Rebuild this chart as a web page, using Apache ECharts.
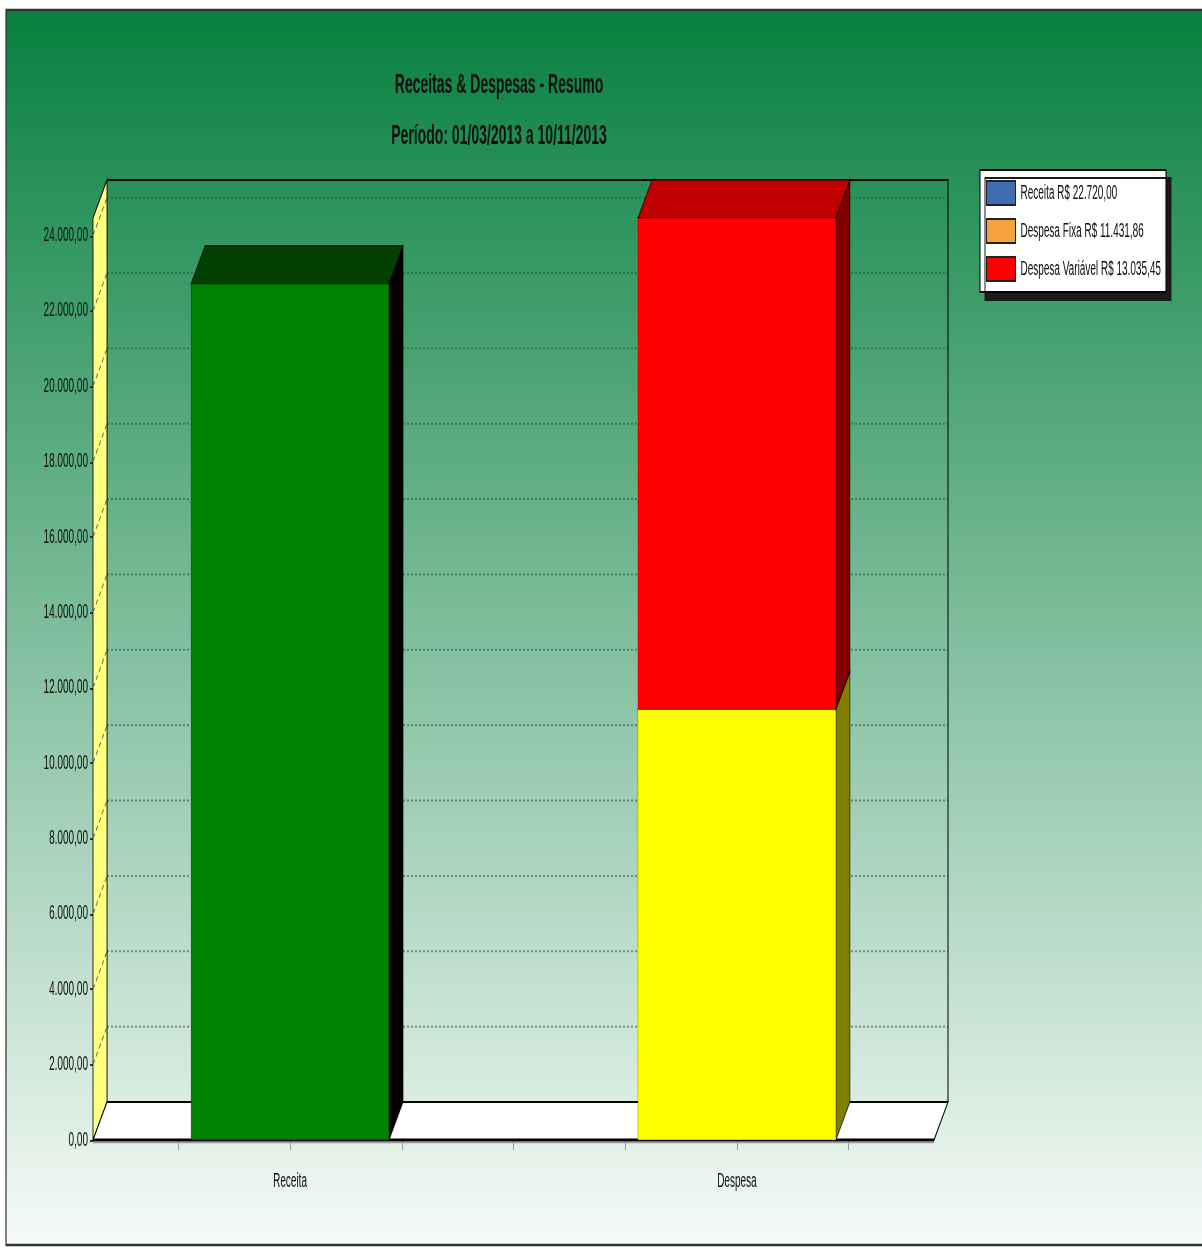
<!DOCTYPE html>
<html lang="pt-BR">
<head>
    <meta charset="UTF-8">
    <title>Receitas & Despesas - Resumo</title>
    <style>
      html, body { margin: 0; padding: 0; background: #fff; }
      #wrap { width: 1202px; height: 1248px; position: relative; overflow: hidden; }
      /* o gráfico original foi esticado na vertical: desenha na metade da altura e estica */
      #chart { position: absolute; left: 0; top: 0; width: 1202px; height: 624px; transform: scaleY(2); transform-origin: 0 0; }
    </style>
</head>
<body>
<div id="wrap"><div id="chart"></div></div>
</body>
<script src="https://cdn.jsdelivr.net/npm/echarts@6/dist/echarts.min.js"></script>
<script type="text/javascript">
  // dados
  const categories = ['Receita', 'Despesa'];
  const seriesNames = ['Receita', 'Despesa Fixa', 'Despesa Variável'];
  const receita = [22720.00, 0];
  const despesaFixa = [0, 11431.86];
  const despesaVariavel = [0, 13035.45];
  const yTicks = [0, 2000, 4000, 6000, 8000, 10000, 12000, 14000, 16000, 18000, 20000, 22000, 24000];
  const xTicks = [0.75, 1, 1.25, 1.5, 1.75, 2, 2.25];

  const seriesValues = [receita, despesaFixa, despesaVariavel];

  // estilo
  const FONT = "'Liberation Sans', Arial, sans-serif";
  const DX = 14;     // profundidade 3D
  const DY = -19;
  const HALF = 0.2215; // meia largura da barra (unidades do eixo x)
  const legendColors = ['#3f6db2', '#f4a23e', '#ff0000'];
  const faceColors = [
    {front: '#008000', top: '#004000', side: '#000000'},
    {front: '#ffff00', top: '#a0a000', side: '#808000'},
    {front: '#ff0000', top: '#c00000', side: '#800000'},
  ];

  function brl(v) {
    const parts = v.toFixed(2).split('.');
    return parts[0].replace(/\B(?=(\d{3})+(?!\d))/g, '.') + ',' + parts[1];
  }

  // empilhamento
  const stackBase = categories.map(() => 0);
  const barData = seriesValues.map(vals => {
    const out = [];
    vals.forEach((v, i) => {
      if (v > 0) {
        out.push([i + 1, stackBase[i], stackBase[i] + v]);
        stackBase[i] += v;
      }
    });
    return out;
  });
  const yMax = Math.max(...stackBase);

  const totals = {};
  seriesNames.forEach((n, i) => {
    totals[n] = seriesValues[i].reduce((a, b) => a + b, 0);
  });

  function renderBar(face) {
    return function(params, api) {
      const x = api.value(0);
      const p0 = api.coord([x - HALF, api.value(2)]);
      const p1 = api.coord([x + HALF, api.value(1)]);
      const x0 = p0[0], yt = p0[1], x1 = p1[0], yb = p1[1];
      const edge = {stroke: 'rgba(0,0,0,0.7)', lineWidth: 0.8};
      return {
        type: 'group',
        children: [
          {
            type: 'polygon',
            shape: {points: [[x1, yt], [x1 + DX, yt + DY], [x1 + DX, yb + DY], [x1, yb]]},
            style: Object.assign({fill: face.side}, edge),
          }, {
            type: 'polygon',
            shape: {points: [[x0, yt], [x0 + DX, yt + DY], [x1 + DX, yt + DY], [x1, yt]]},
            style: Object.assign({fill: face.top}, edge),
          }, {
            type: 'rect',
            shape: {x: x0, y: yt, width: x1 - x0, height: yb - yt},
            style: {fill: face.front, stroke: 'rgba(0,0,0,0.35)', lineWidth: 0.6},
          }],
      };
    };
  }

  // paredes, piso e linhas de grade do fundo
  function renderWalls(params, api) {
    const cs = params.coordSys;
    const left = cs.x, right = cs.x + cs.width, top = cs.y, bottom = cs.y + cs.height;
    const children = [];

    yTicks.forEach(v => {
      if (v === 0) return;
      const y = api.coord([1, v])[1] + DY;
      children.push({
        type: 'line',
        shape: {x1: left + DX, y1: y, x2: right + DX, y2: y},
        style: {stroke: 'rgba(40,95,65,0.6)', lineWidth: 1, lineDash: [2, 2]},
      });
    });

    children.push({
      type: 'polyline',
      shape: {points: [[left + DX, bottom + DY], [left + DX, top + DY], [right + DX, top + DY], [right + DX, bottom + DY]]},
      style: {stroke: '#000', lineWidth: 1, fill: null},
    });

    children.push({
      type: 'polygon',
      shape: {points: [[left, bottom], [left + DX, bottom + DY], [left + DX, top + DY], [left, top]]},
      style: {fill: '#ffff80', stroke: '#000', lineWidth: 0.8},
    });

    yTicks.forEach(v => {
      const y = api.coord([1, v])[1];
      children.push({
        type: 'line',
        shape: {x1: left, y1: y, x2: left + DX, y2: y + DY},
        style: {stroke: '#666', lineWidth: 0.8, lineDash: [3, 2]},
      });
    });

    children.push({
      type: 'polygon',
      shape: {points: [[left, bottom], [left + DX, bottom + DY], [right + DX, bottom + DY], [right, bottom]]},
      style: {fill: '#ffffff', stroke: '#000', lineWidth: 0.9},
    });
    children.push({
      type: 'line',
      shape: {x1: left, y1: bottom, x2: right, y2: bottom},
      style: {stroke: '#000', lineWidth: 1.6},
    });
    children.push({
      type: 'line',
      shape: {x1: left, y1: bottom + 1.3, x2: right, y2: bottom + 1.3},
      style: {stroke: '#999', lineWidth: 0.6},
    });

    return {type: 'group', children: children};
  }

  const series = [
    {
      type: 'custom',
      renderItem: renderWalls,
      data: [[1, 0]],
      clip: false,
      silent: true,
      z: 1,
    }];

  seriesNames.forEach((name, i) => {
    series.push({
      name: name,
      type: 'custom',
      renderItem: renderBar(faceColors[i]),
      encode: {x: 0, y: [1, 2]},
      data: barData[i],
      clip: false,
      itemStyle: {color: legendColors[i]},
      z: 3,
    });
  });

  const option = {
    animation: false,
    backgroundColor: 'transparent',
    graphic: [
      {
        type: 'rect',
        z: -10,
        shape: {x: 6, y: 5, width: 1200, height: 617.5},
        style: {
          fill: {
            type: 'linear', x: 0, y: 0, x2: 0, y2: 1,
            colorStops: [
              {offset: 0, color: '#07803f'},
              {offset: 1, color: '#f6fbf8'}],
          },
          stroke: '#333',
          lineWidth: 1.2,
        },
      }],
    title: {
      text: 'Receitas & Despesas - Resumo\nPeríodo: 01/03/2013 a 10/11/2013',
      left: 494,
      top: 25,
      textAlign: 'center',
      textStyle: {
        fontFamily: FONT, fontSize: 14, fontWeight: 'bold', color: '#111', lineHeight: 25.5,
      },
    },
    legend: {
      orient: 'vertical',
      left: 980,
      top: 85,
      padding: [5, 5, 5, 6],
      itemWidth: 29,
      itemHeight: 12,
      itemGap: 6,
      icon: 'rect',
      backgroundColor: '#ffffff',
      borderColor: '#000',
      borderWidth: 1,
      shadowColor: '#1a1a1a',
      shadowBlur: 0,
      shadowOffsetX: 5,
      shadowOffsetY: 4,
      selectedMode: false,
      data: seriesNames.map((n, i) => ({
        name: n,
        itemStyle: {color: legendColors[i], borderColor: '#222', borderWidth: 1},
      })),
      formatter: n => n + ' R$ ' + brl(totals[n]),
      textStyle: {fontFamily: FONT, fontSize: 10, color: '#111'},
    },
    grid: {left: 93, right: 268, top: 109, bottom: 54},
    xAxis: {
      type: 'value',
      min: 0.559,
      max: 2.441,
      axisLine: {show: false},
      splitLine: {show: false},
      axisTick: {show: true, customValues: xTicks, length: 5, lineStyle: {color: '#999', width: 1}},
      axisLabel: {
        customValues: [1, 2],
        formatter: v => categories[Math.round(v) - 1] || '',
        margin: 15.5,
        fontFamily: FONT,
        fontSize: 10,
        color: '#111',
      },
    },
    yAxis: {
      type: 'value',
      min: 0,
      max: yMax,
      axisLine: {show: true, lineStyle: {color: '#000', width: 1}},
      axisTick: {show: true, customValues: yTicks, length: 3, lineStyle: {color: '#333'}},
      splitLine: {show: false},
      axisLabel: {
        customValues: yTicks,
        formatter: v => brl(v),
        margin: 5,
        fontFamily: FONT,
        fontSize: 10,
        color: '#111',
      },
    },
    series: series,
  };

  const chart = echarts.init(document.getElementById('chart'), null, {renderer: 'canvas', devicePixelRatio: 2});
  chart.setOption(option);
</script>
</html>
